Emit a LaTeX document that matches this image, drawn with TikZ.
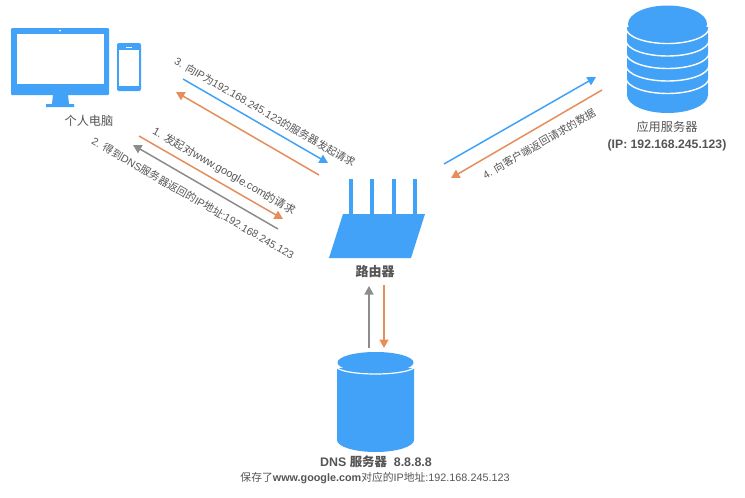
\documentclass[tikz,border=0pt]{standalone}
\usepackage{fontspec}
\setmainfont{Liberation Sans}
\newfontfamily\cjk{Noto Sans CJK SC}
\newcommand{\zh}[1]{{\cjk #1}}
\definecolor{iconblue}{HTML}{42A2F8}
\definecolor{arrorange}{HTML}{E58E5C}
\definecolor{arrgray}{HTML}{8C8C8C}
\definecolor{txt}{HTML}{555555}
\usetikzlibrary{arrows.meta}
\tikzset{
  conn/.style={line width=1.5pt,-{Triangle[length=8.5pt,width=9pt]}},
  lbl/.style={text=txt,font=\fontsize{10.5}{12}\selectfont,inner sep=0pt},
  captext/.style={text=txt,font=\fontsize{12.2}{14}\selectfont,inner sep=0pt,align=center},
  icon/.style={fill=iconblue,draw=none}
}
\begin{document}
\begin{tikzpicture}[x=1pt,y=-1pt]
\useasboundingbox (0,0) rectangle (745,498);
\fill[white] (0,0) rectangle (745,498);
% monitor
\fill[icon,rounded corners=1pt] (11,28) rectangle (109,95);
\fill[white] (17,34) rectangle (104,84);
\fill[white] (60,30.5) circle (1pt);
\fill[icon] (53,95) -- (68,95) -- (69,104) -- (74,104) -- (74,107) -- (46,107) -- (46,104) -- (52,104) -- cycle;
% phone
\fill[icon,rounded corners=2pt] (117,43) rectangle (141,91);
\fill[white] (119,50) rectangle (139,86);
\fill[white] (126,46.5) rectangle (132,47.5);
\node[captext] (pc) at (89,121) {\zh{个人电脑}};
% app server
\fill[icon] (627,27) -- (627,95) arc[start angle=180,end angle=360,x radius=40.5pt,y radius=18pt] -- (708,27) -- cycle;
\foreach \y in {28,40.5,53,65.5,78}{
  \draw[white,line width=1.4pt] (626,\y) arc[start angle=180,end angle=360,x radius=41.5pt,y radius=15.5pt];
}
\fill[icon] (667.5,24) ellipse[x radius=39.5pt,y radius=18.5pt];
\node[captext] (app) at (667,136) {\zh{应用服务器}\\[3pt]\bfseries (IP: 192.168.245.123)};
% router
\fill[icon] (343,214) -- (425,214) -- (411,258) -- (329,258) -- cycle;
\foreach \x in {348.5,370,391.5,413}{ \fill[icon] (\x,179) rectangle (\x+4.3,215); }
\node[captext,font=\fontsize{13}{15}\selectfont\bfseries] (router) at (375,272) {\zh{路由器}};
% dns
\fill[icon] (337,368) -- (337,440) arc[start angle=180,end angle=360,x radius=38.5pt,y radius=12pt] -- (414,368) -- cycle;
\draw[white,line width=1.2pt] (336,366) arc[start angle=180,end angle=360,x radius=39.5pt,y radius=8pt];
\fill[icon] (375.5,362.5) ellipse[x radius=38pt,y radius=10.5pt];
\node[captext,font=\fontsize{12.4}{14}\selectfont\bfseries] (dns) at (376,462) {DNS \zh{服务器}~ 8.8.8.8};
\node[lbl,font=\fontsize{10.8}{12}\selectfont] (dnsnote) at (375,478) {\zh{保存了}\textbf{www.google.com}\zh{对应的}IP\zh{地址}:192.168.245.123};
% arrows
\coordinate (a3s) at (183,79); \coordinate (a3e) at (328,163);
\coordinate (b3s) at (319,175); \coordinate (b3e) at (176,92);
\coordinate (a1s) at (139,136); \coordinate (a1e) at (283,219);
\coordinate (a2s) at (278,229); \coordinate (a2e) at (133,145);
\coordinate (a4s) at (444,164); \coordinate (a4e) at (596,77);
\coordinate (b4s) at (602,90); \coordinate (b4e) at (451,178);
\coordinate (ds) at (369,348); \coordinate (de) at (369,286);
\coordinate (rs) at (384,285); \coordinate (re) at (384,348);
\draw[conn,iconblue] (a3s) -- (a3e);
\draw[conn,arrorange] (b3s) -- (b3e);
\draw[conn,arrorange] (a1s) -- (a1e);
\draw[conn,arrgray] (a2s) -- (a2e);
\draw[conn,iconblue] (a4s) -- (a4e);
\draw[conn,arrorange] (b4s) -- (b4e);
\draw[conn,arrgray] (ds) -- (de);
\draw[conn,arrorange] (rs) -- (re);
% rotated labels
\node[lbl,rotate=-30] (l3) at (265,112) {3. \zh{向}IP\zh{为}192.168.245.123\zh{的服务器发起请求}};
\node[lbl,font=\fontsize{11}{12}\selectfont,rotate=-30] (l1) at (224,171) {1. \zh{发起对}www.google.com\zh{的请求}};
\node[lbl,rotate=-30] (l2) at (193,198) {2. \zh{得到}DNS\zh{服务器返回的}IP\zh{地址}:192.168.245.123};
\node[lbl,rotate=30] (l4) at (539,144) {4. \zh{向客户端返回请求的数据}};
\end{tikzpicture}
\end{document}
